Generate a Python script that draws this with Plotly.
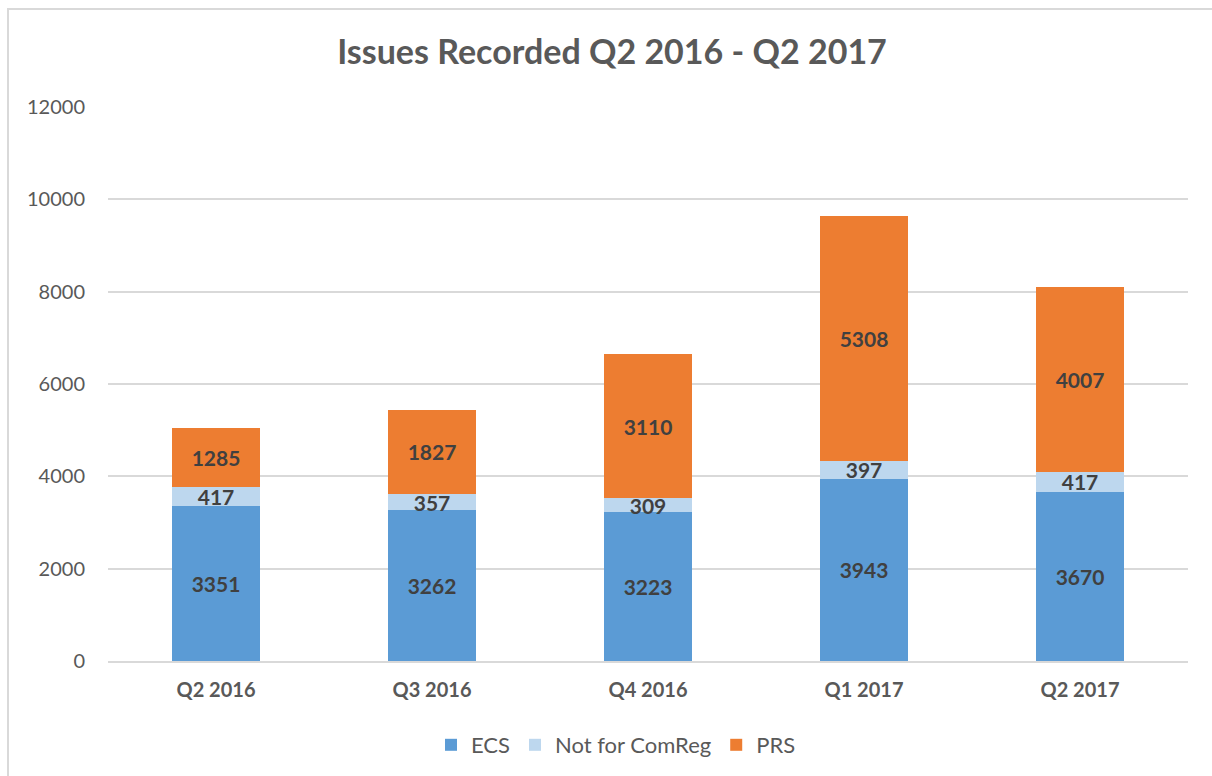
import plotly.graph_objects as go

categories = ["Q2 2016", "Q3 2016", "Q4 2016", "Q1 2017", "Q2 2017"]
ecs = [3351, 3262, 3223, 3943, 3670]
not_comreg = [417, 357, 309, 397, 417]
prs = [1285, 1827, 3110, 5308, 4007]
y_ticks = [0, 2000, 4000, 6000, 8000, 10000, 12000]

FONT = "Lato"
label_font = dict(family=FONT, size=21, color="#404040")

fig = go.Figure()
for name, vals, color in [
    ("ECS", ecs, "#5b9bd5"),
    ("Not for ComReg", not_comreg, "#bdd7ee"),
    ("PRS", prs, "#ed7d31"),
]:
    fig.add_trace(go.Bar(
        x=categories, y=vals, name=name,
        marker=dict(color=color, line=dict(width=0)),
        text=[f"<b>{v}</b>" for v in vals],
        textposition="inside", insidetextanchor="middle",
        textfont=label_font, constraintext="none",
        textangle=0,
    ))

W, H = 1212, 776
L, R, T, B = 108, 24, 107, 115
pw, ph = W - L - R, H - T - B

fig.update_layout(
    width=W, height=H,
    barmode="stack", bargap=0.597,
    margin=dict(l=L, r=R, t=T, b=B, autoexpand=False),
    paper_bgcolor="white", plot_bgcolor="white",
    font=dict(family=FONT, color="#595959", size=20),
    uniformtext=dict(mode=False),
    title=dict(
        text="<b>Issues Recorded Q2 2016 - Q2 2017</b>",
        x=612 / W, xanchor="center", xref="container",
        y=1 - 52 / H, yanchor="middle", yref="container",
        font=dict(family=FONT, size=34, color="#595959"),
    ),
    xaxis=dict(
        showgrid=False, showline=True, linecolor="#d9d9d9", linewidth=2,
        ticks="", tickfont=dict(family=FONT, size=20, color="#595959"),
        ticktext=[f"<b>{c}</b>" for c in categories], tickvals=categories,
        ticklabelstandoff=10, tickangle=0,
    ),
    yaxis=dict(
        range=[0, 12000], tickvals=y_ticks,
        ticktext=[str(v) for v in y_ticks],
        showgrid=True, gridcolor="#d9d9d9", gridwidth=1.5,
        zeroline=False, showline=False, ticks="",
        tickfont=dict(family=FONT, size=20, color="#595959"),
        ticklabelstandoff=22,
    ),
    legend=dict(
        orientation="h", x=(616 - L) / pw, xanchor="center",
        y=(661 - 745) / ph, yanchor="middle",
        font=dict(family=FONT, size=22, color="#595959"),
        traceorder="normal", itemwidth=30,
    ),
    shapes=[dict(
        type="rect", xref="paper", yref="paper",
        x0=(8 - L) / pw, x1=(W + 20 - L) / pw,
        y0=-(H + 20 - (T + ph)) / ph, y1=(T + ph - 9) / ph,
        line=dict(color="#d9d9d9", width=2), fillcolor="rgba(0,0,0,0)",
        layer="below",
    )],
)

html = fig.to_html(include_plotlyjs=True, full_html=True,
                   config={"displayModeBar": False})
html = html.replace("<head>", "<head><style>html,body{margin:0;padding:0;overflow:hidden;}</style>", 1)
with open("out.html", "w", encoding="utf-8") as f:
    f.write(html)
